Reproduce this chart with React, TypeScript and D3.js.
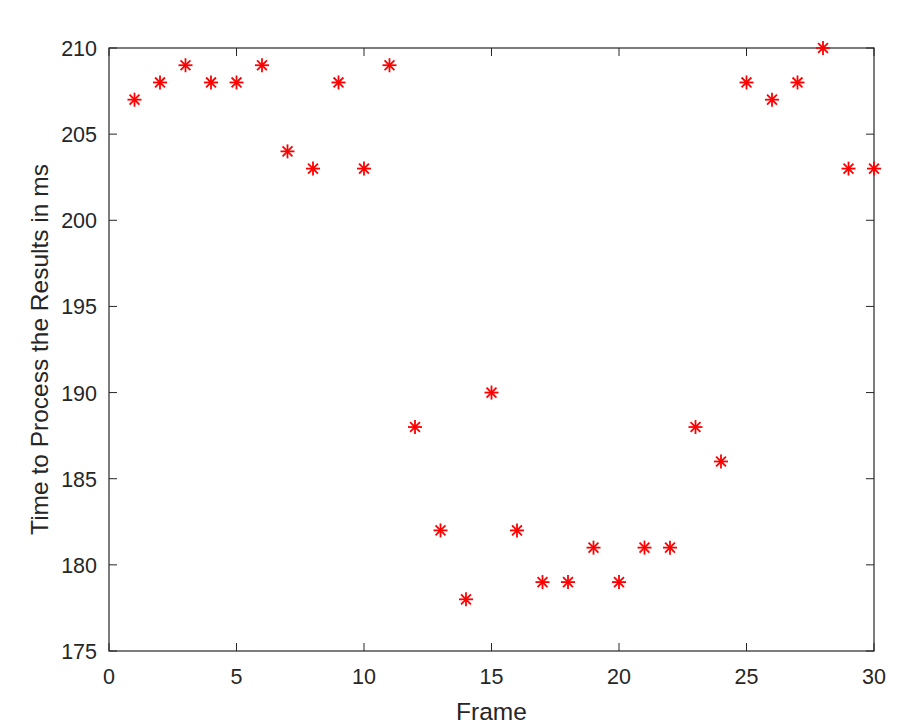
import React, { useEffect, useRef } from 'react';
import * as d3 from 'd3';

const frames = [1, 2, 3, 4, 5, 6, 7, 8, 9, 10, 11, 12, 13, 14, 15, 16, 17, 18, 19, 20, 21, 22, 23, 24, 25, 26, 27, 28, 29, 30];
const times = [207, 208, 209, 208, 208, 209, 204, 203, 208, 203, 209, 188, 182, 178, 190, 182, 179, 179, 181, 179, 181, 181, 188, 186, 208, 207, 208, 210, 203, 203];
const xTicks = [0, 5, 10, 15, 20, 25, 30];
const yTicks = [175, 180, 185, 190, 195, 200, 205, 210];

const App = () => {
  const ref = useRef<SVGSVGElement>(null);

  useEffect(() => {
    const width = 920;
    const height = 728;
    const m = { left: 109, top: 48, right: 46, bottom: 77 };
    const svg = d3.select(ref.current);
    svg.selectAll('*').remove();

    const x = d3.scaleLinear().domain([0, 30]).range([m.left, width - m.right]);
    const y = d3.scaleLinear().domain([175, 210]).range([height - m.bottom, m.top]);
    const axisColor = '#262626';
    const font = 'Liberation Sans, Arial, sans-serif';

    svg.append('rect').attr('width', width).attr('height', height).attr('fill', '#fff');

    const g = svg.append('g');
    // ticks point inward, repeated on top and right like matlab's box
    xTicks.forEach(t => {
      g.append('line').attr('x1', x(t)).attr('x2', x(t)).attr('y1', y(175)).attr('y2', y(175) - 8)
        .attr('stroke', axisColor);
      g.append('line').attr('x1', x(t)).attr('x2', x(t)).attr('y1', y(210)).attr('y2', y(210) + 8)
        .attr('stroke', axisColor);
      g.append('text').attr('x', x(t)).attr('y', y(175) + 33).attr('text-anchor', 'middle')
        .attr('font-family', font).attr('font-size', 21.5).attr('fill', axisColor).text(t);
    });
    yTicks.forEach(t => {
      g.append('line').attr('x1', x(0)).attr('x2', x(0) + 8).attr('y1', y(t)).attr('y2', y(t))
        .attr('stroke', axisColor);
      g.append('line').attr('x1', x(30)).attr('x2', x(30) - 8).attr('y1', y(t)).attr('y2', y(t))
        .attr('stroke', axisColor);
      g.append('text').attr('x', x(0) - 12).attr('y', y(t) + 8).attr('text-anchor', 'end')
        .attr('font-family', font).attr('font-size', 21.5).attr('fill', axisColor).text(t);
    });
    g.append('rect').attr('x', x(0)).attr('y', y(210)).attr('width', x(30) - x(0)).attr('height', y(175) - y(210))
      .attr('fill', 'none').attr('stroke', axisColor).attr('stroke-width', 1.2);

    g.append('text').attr('x', (x(0) + x(30)) / 2).attr('y', 720).attr('text-anchor', 'middle')
      .attr('font-family', font).attr('font-size', 24.5).attr('fill', axisColor).text('Frame');
    g.append('text').attr('transform', `translate(48,${(y(175) + y(210)) / 2}) rotate(-90)`)
      .attr('text-anchor', 'middle').attr('font-family', font).attr('font-size', 24.5).attr('fill', axisColor)
      .text('Time to Process the Results in ms');

    const s = 7;
    const d = s * 0.7071;
    const pts = g.selectAll('g.pt').data(frames).enter().append('g')
      .attr('transform', (f, i) => `translate(${x(f)},${y(times[i])})`)
      .attr('stroke', '#ff0000').attr('stroke-width', 1.8);
    pts.append('line').attr('x1', -s).attr('x2', s).attr('y1', 0).attr('y2', 0);
    pts.append('line').attr('x1', 0).attr('x2', 0).attr('y1', -s).attr('y2', s);
    pts.append('line').attr('x1', -d).attr('x2', d).attr('y1', -d).attr('y2', d);
    pts.append('line').attr('x1', -d).attr('x2', d).attr('y1', d).attr('y2', -d);
  }, []);

  return (
    <div style={{ margin: -8 }}>
      <svg ref={ref} width={920} height={728} style={{ display: 'block' }} />
    </div>
  );
};

export default App;
